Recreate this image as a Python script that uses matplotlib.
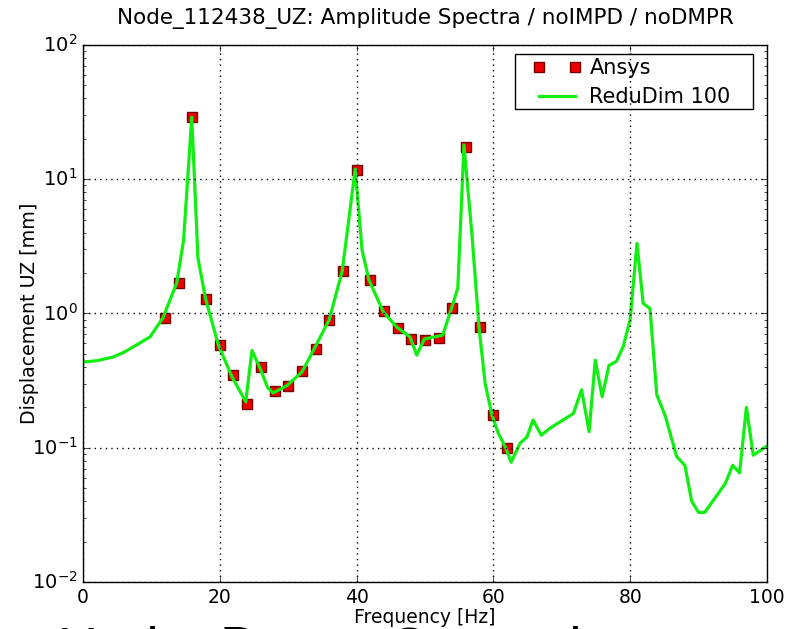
import numpy as np
import matplotlib
matplotlib.use("Agg")
import matplotlib.pyplot as plt
from matplotlib.patches import Rectangle
from matplotlib.legend_handler import HandlerLine2D

# Ansys reference points (Hz, mm)
ansys_freq = [12, 14, 16, 18, 20, 22, 24, 26, 28, 30, 32, 34, 36, 38, 40,
              42, 44, 46, 48, 50, 52, 54, 56, 58, 60, 62]
ansys_amp = [0.93, 1.69, 29.0, 1.28, 0.58, 0.35, 0.21, 0.40, 0.265, 0.29,
             0.37, 0.54, 0.89, 2.07, 11.7, 1.78, 1.04, 0.78, 0.645, 0.635,
             0.656, 1.10, 17.4, 0.79, 0.175, 0.10]

# ReduDim 100 curve (Hz, mm)
redu_freq = [0, 2, 4.4, 6, 8, 9.8, 11.7, 13.7, 14.7, 15.9, 16.8, 17.9, 19.8,
             21.8, 23.8, 24.7, 25.9, 27.0, 27.8, 29.8, 32.0, 33.8, 36.0, 37.9,
             39.8, 40.8, 41.8, 43.9, 45.9, 47.8, 48.8, 49.9, 52.6, 53.9, 54.8,
             55.7, 56.9, 57.9, 58.8, 59.8, 60.7, 61.8, 62.6, 63.9, 64.9, 65.8,
             67.0, 68.3, 71.7, 72.9, 74.0, 74.9, 75.9, 76.9, 78.0, 79.0, 80.0,
             81.0, 81.9, 82.9, 83.9, 85.1, 86.8, 88.0, 89.0, 90.0, 90.9, 93.9,
             95.0, 96.0, 97.0, 98.0, 100.0]
redu_amp = [0.435, 0.445, 0.474, 0.515, 0.59, 0.67, 0.93, 1.69, 3.5, 29.0,
            2.6, 1.3, 0.58, 0.336, 0.22, 0.53, 0.39, 0.28, 0.256, 0.29, 0.366,
            0.545, 0.90, 2.07, 11.9, 2.97, 1.78, 1.03, 0.79, 0.67, 0.49, 0.645,
            0.69, 1.10, 1.55, 18.0, 3.7, 0.79, 0.30, 0.175, 0.129, 0.10, 0.078,
            0.108, 0.12, 0.161, 0.124, 0.14, 0.18, 0.27, 0.132, 0.45, 0.24,
            0.41, 0.44, 0.57, 0.90, 3.33, 1.19, 1.09, 0.247, 0.175, 0.086,
            0.074, 0.040, 0.033, 0.033, 0.054, 0.074, 0.065, 0.20, 0.088, 0.103]

plt.style.use("classic")
plt.rcParams["font.family"] = "DejaVu Sans"

fig = plt.figure(figsize=(7.87, 6.29), dpi=100, facecolor="white")
ax = fig.add_axes([0.1055, 0.0747, 0.869, 0.8538])

ansys_line, = ax.plot(ansys_freq, ansys_amp, linestyle="none", marker="s",
                      markersize=7, markerfacecolor="#ee0000",
                      markeredgecolor="#7a0000", markeredgewidth=1,
                      label="Ansys")
redu_line, = ax.plot(redu_freq, redu_amp, color="#11ee11", linewidth=2.3,
                     label="ReduDim 100")

ax.set_yscale("log")
ax.set_xlim(0, 100)
ax.set_ylim(1e-2, 1e2)
ax.set_xticks([0, 20, 40, 60, 80, 100])
ax.grid(True, which="major", color="k", linestyle=":", linewidth=1)
ax.tick_params(axis="x", labelsize=13.5)
ax.tick_params(axis="y", labelsize=14)

ax.set_title("Node_112438_UZ: Amplitude Spectra / noIMPD / noDMPR",
             fontsize=15.5, pad=15)
ax.set_xlabel("Frequency [Hz]", fontsize=13.5, labelpad=1)
ax.set_ylabel("Displacement UZ [mm]", fontsize=13.7, labelpad=-5)

# legend: wide side padding, tight top/bottom like the old style
leg = ax.legend(loc="upper left", bbox_to_anchor=(0.652, 0.995),
                numpoints=2, fontsize=15, frameon=False, borderpad=0,
                handlelength=1.7, handletextpad=0.7, labelspacing=0.44,
                handler_map={ansys_line: HandlerLine2D(marker_pad=0),
                             redu_line: HandlerLine2D(marker_pad=0)})
ax.add_patch(Rectangle((0.6316, 0.8808), 0.3479, 0.1024,
                       transform=ax.transAxes, fill=False,
                       edgecolor="k", linewidth=1, zorder=5))

# slide caption cut off at the bottom edge
cap = dict(fontsize=40, family="Liberation Sans", va="baseline", ha="left")
fig.text(58/787, -0.0573, "Under", **cap)
fig.text(220/787, -0.0573, "Damp", **cap)
fig.text(387/787, -0.0573, "Correction", **cap)

fig.savefig("out.png", dpi=100, facecolor="white")
